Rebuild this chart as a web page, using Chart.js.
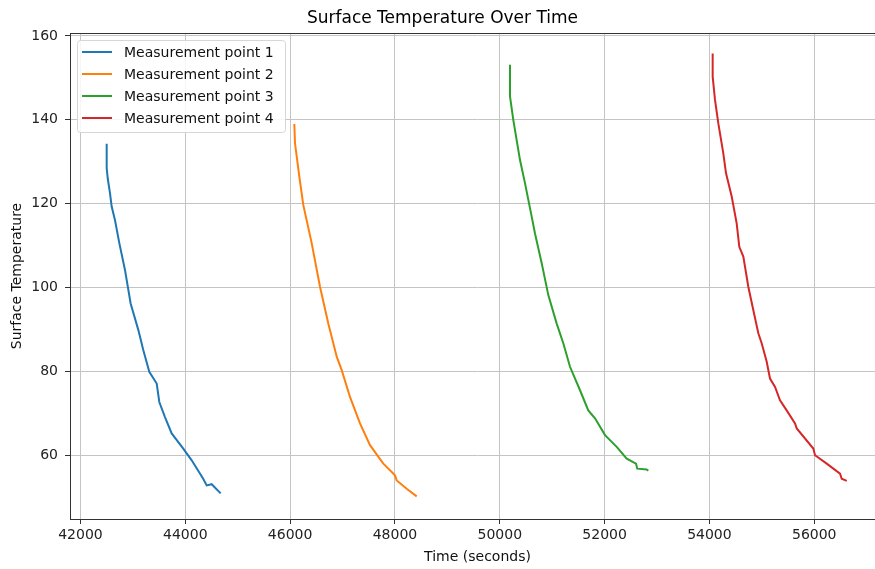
<!DOCTYPE html>
<html>
<head>
<meta charset="utf-8">
<script src="https://cdn.jsdelivr.net/npm/chart.js@4"></script>
<style>
  html, body { margin: 0; padding: 0; background: #fff; overflow: hidden; }
  #wrap { width: 900px; height: 569px; }
</style>
</head>
<body>
<div id="wrap"><canvas id="chart" width="900" height="569"></canvas></div>
<script>
// --- Data ---
const seriesNames = ["Measurement point 1", "Measurement point 2", "Measurement point 3", "Measurement point 4"];
const seriesColors = ["#1f77b4", "#ff7f0e", "#2ca02c", "#d62728"];

const time1 = [42500, 42500, 42520, 42563, 42595, 42658, 42741, 42849, 42957, 43103, 43198, 43313, 43454, 43504, 43612, 43740, 43961, 44122, 44341, 44408, 44503, 44675];
const temp1 = [134.3, 128.5, 126.0, 122.5, 119.3, 116.1, 110.6, 104.2, 96.2, 89.9, 85.1, 79.9, 77.1, 72.7, 69.1, 65.2, 61.6, 58.8, 54.4, 52.8, 53.1, 50.9];

const time2 = [46080, 46093, 46175, 46251, 46411, 46570, 46728, 46889, 46984, 47142, 47333, 47524, 47778, 48001, 48033, 48224, 48415];
const temp2 = [139.0, 134.4, 126.5, 119.7, 110.6, 100.2, 91.4, 83.5, 80.3, 73.9, 67.6, 62.4, 58.0, 55.2, 54.0, 52.0, 50.2];

const time3 = [50195, 50195, 50258, 50386, 50481, 50609, 50672, 50800, 50926, 51086, 51212, 51340, 51531, 51689, 51817, 52008, 52231, 52422, 52599, 52624, 52803, 52834];
const temp3 = [153.1, 145.6, 140.0, 130.4, 124.9, 116.9, 112.9, 105.8, 98.2, 91.4, 86.7, 81.1, 75.5, 70.7, 68.8, 64.8, 62.0, 59.2, 58.0, 56.8, 56.6, 56.3];

const time4 = [54062, 54062, 54106, 54169, 54265, 54316, 54425, 54520, 54570, 54647, 54742, 54838, 54933, 54997, 55093, 55156, 55252, 55347, 55474, 55633, 55666, 55982, 56015, 56238, 56492, 56524, 56620];
const temp4 = [155.8, 150.3, 144.8, 139.2, 132.0, 127.3, 121.7, 115.3, 109.7, 107.4, 100.2, 94.6, 89.1, 86.7, 82.3, 78.3, 76.3, 73.1, 70.7, 67.6, 66.4, 61.6, 60.0, 58.0, 55.6, 54.4, 53.9];

const xTicks = [42000, 44000, 46000, 48000, 50000, 52000, 54000, 56000];
const yTicks = [60, 80, 100, 120, 140, 160];

const FONT = "'DejaVu Sans', sans-serif";

function toPoints(xs, ys) {
	return xs.map((x, i) => ({ x: x, y: ys[i] }));
}

const allTimes = [time1, time2, time3, time4];
const allTemps = [temp1, temp2, temp3, temp4];

const datasets = seriesNames.map((name, i) => ({
	label: name,
	data: toPoints(allTimes[i], allTemps[i]),
	borderColor: seriesColors[i],
	backgroundColor: seriesColors[i],
	borderWidth: 2,
	showLine: true,
	pointRadius: 0,
	tension: 0,
}));

// --- Frame (all four spines) and in-plot legend ---
const framePlugin = {
	id: "frame",
	afterDraw(chart) {
		const { ctx, chartArea: a } = chart;
		ctx.save();
		ctx.strokeStyle = "#333";
		ctx.lineWidth = 1;
		ctx.strokeRect(a.left + 0.5, a.top + 0.5, a.right - a.left, a.bottom - a.top);

		// legend box
		const bx = a.left + 7.5, by = a.top + 7.5, bw = 208, bh = 92, r = 3;
		ctx.beginPath();
		ctx.moveTo(bx + r, by);
		ctx.arcTo(bx + bw, by, bx + bw, by + bh, r);
		ctx.arcTo(bx + bw, by + bh, bx, by + bh, r);
		ctx.arcTo(bx, by + bh, bx, by, r);
		ctx.arcTo(bx, by, bx + bw, by, r);
		ctx.closePath();
		ctx.fillStyle = "rgba(255,255,255,0.85)";
		ctx.fill();
		ctx.strokeStyle = "#d6d6d6";
		ctx.stroke();

		ctx.font = "14px " + FONT;
		ctx.textBaseline = "middle";
		ctx.textAlign = "left";
		seriesNames.forEach((name, i) => {
			const yy = by + 11.5 + i * 22;
			ctx.strokeStyle = seriesColors[i];
			ctx.lineWidth = 2;
			ctx.beginPath();
			ctx.moveTo(bx + 4.5, yy);
			ctx.lineTo(bx + 34.5, yy);
			ctx.stroke();
			ctx.fillStyle = "#111";
			ctx.fillText(name, bx + 46.5, yy + 1);
		});
		ctx.restore();
	},
};

new Chart(document.getElementById("chart"), {
	type: "scatter",
	data: { datasets: datasets },
	options: {
		responsive: false,
		animation: false,
		layout: { padding: { left: 0, right: 15, top: 0, bottom: 0 } },
		plugins: {
			legend: { display: false },
			tooltip: { enabled: false },
			title: {
				display: true,
				text: "Surface Temperature Over Time",
				color: "#000",
				font: { family: FONT, size: 17, weight: "normal" },
				padding: { top: 8, bottom: 4.6 },
			},
		},
		scales: {
			x: {
				type: "linear",
				min: 41800,
				max: 57350,
				afterBuildTicks: (scale) => {
					scale.ticks = xTicks.map((v) => ({ value: v }));
				},
				afterFit: (scale) => {
					scale.height = 50;
				},
				ticks: {
					color: "#222",
					font: { family: FONT, size: 14 },
					padding: 3,
					maxRotation: 0,
					callback: (v) => String(v),
				},
				grid: { color: "#c4c4c4", tickColor: "#333", tickLength: 5, lineWidth: 1 },
				border: { display: false },
				title: {
					display: true,
					text: "Time (seconds)",
					color: "#111",
					font: { family: FONT, size: 14 },
					padding: { top: 0, bottom: 3 },
				},
			},
			y: {
				type: "linear",
				min: 44.8,
				max: 160.7,
				afterBuildTicks: (scale) => {
					scale.ticks = yTicks.map((v) => ({ value: v }));
				},
				afterFit: (scale) => {
					scale.width = 70;
				},
				ticks: {
					color: "#222",
					font: { family: FONT, size: 14 },
					padding: 7,
					callback: (v) => String(v),
				},
				grid: { color: "#c4c4c4", tickColor: "#333", tickLength: 5, lineWidth: 1 },
				border: { display: false },
				title: {
					display: true,
					text: "Surface Temperature",
					color: "#111",
					font: { family: FONT, size: 14 },
					padding: { top: 9, bottom: 0 },
				},
			},
		},
	},
	plugins: [framePlugin],
});
</script>
</body>
</html>
